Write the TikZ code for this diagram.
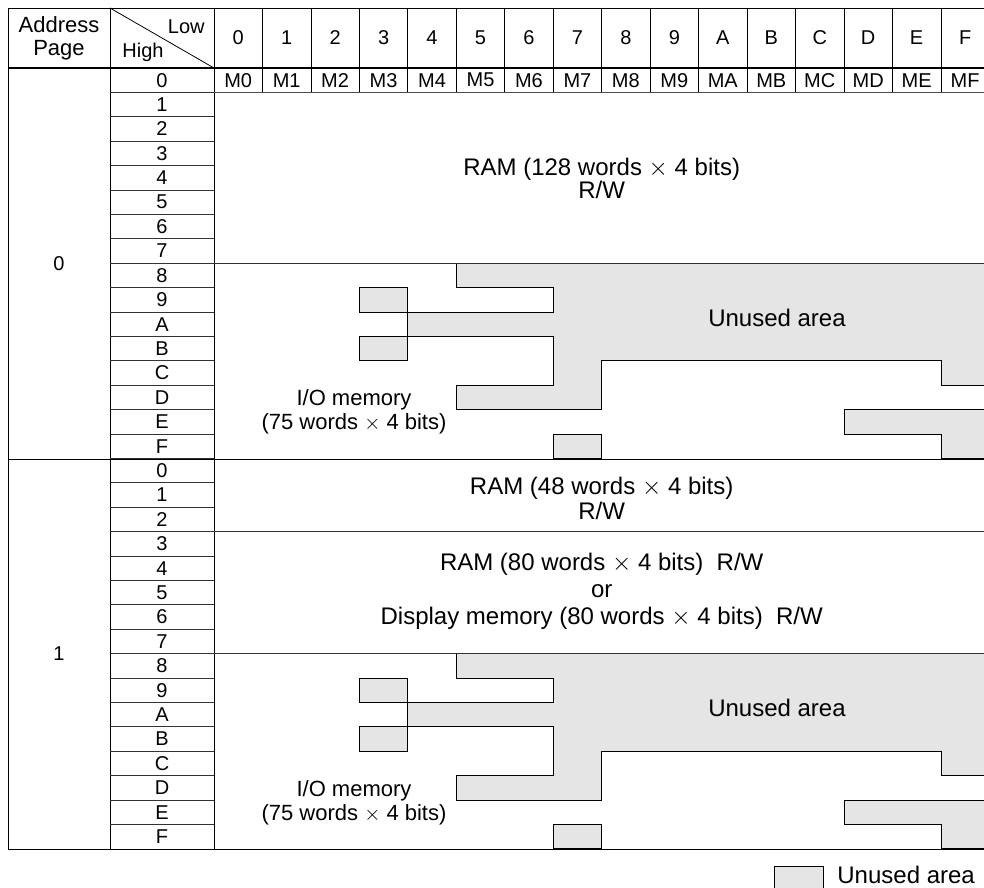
\documentclass[tikz,border=0pt]{standalone}
\usepackage{fontspec}
\setmainfont{Liberation Sans}
\usetikzlibrary{positioning}

\begin{document}
\begin{tikzpicture}[x=1pt,y=-1pt,line width=0.8pt,
  txt/.style={font=\fontsize{24}{23}\selectfont,align=center,inner sep=0pt},
  iotxt/.style={font=\fontsize{22}{24}\selectfont,align=center,inner sep=0pt},
  lbl/.style={font=\fontsize{20}{23}\selectfont,align=center,inner sep=0pt},
  unused/.style={fill=black!10,draw=black}]
\clip (0,0) rectangle (984,887);
% unused cells, one copy per page
\begin{scope}[shift={(214,68)},x=48.46pt,y=-24.4pt]
\foreach \p in {0,16}{
 \filldraw[unused] (5,\p+8) -- (16,\p+8) -- (16,\p+13) -- (15,\p+13) -- (15,\p+12) -- (8,\p+12)
   -- (8,\p+14) -- (5,\p+14) -- (5,\p+13) -- (7,\p+13) -- (7,\p+11) -- (4,\p+11) -- (4,\p+10)
   -- (7,\p+10) -- (7,\p+9) -- (5,\p+9) -- cycle;
 \filldraw[unused] (3,\p+9) rectangle (4,\p+10);
 \filldraw[unused] (3,\p+11) rectangle (4,\p+12);
 \filldraw[unused] (7,\p+15) rectangle (8,\p+16);
 \filldraw[unused] (13,\p+14) -- (16,\p+14) -- (16,\p+16) -- (15,\p+16) -- (15,\p+15) -- (13,\p+15) -- cycle;
}
\end{scope}
% table rules
\draw (8,8) -- (990,8);
\draw (8,8) -- (8,849) -- (990,849);
\draw (110,8) -- (110,849);
\draw (214,8) -- (214,849);
\draw (110,8) -- (214,68);
\draw[line width=2pt] (8,68) -- (990,68);
\draw[line width=1.2pt] (8,459.2) -- (990,459.2);
\draw[black!70] (110,92.4) -- (990,92.4);
\foreach \c in {1,...,15} \draw (214+\c*48.46,8) -- (214+\c*48.46,92.4);
\foreach \r in {1,...,31} \draw[black!80] (110,68+\r*24.4) -- (214,68+\r*24.4);
\foreach \r in {8,19,24} \draw[black!80] (214,68+\r*24.4) -- (990,68+\r*24.4);
% header
\node[lbl,font=\fontsize{22}{23}\selectfont] (addr) at (59,38) {Address\\Page};
\node[lbl,anchor=east] (low) at (205,27) {Low};
\node[lbl,anchor=west] (high) at (122,52) {High};
\foreach \h [count=\c from 0] in {0,1,2,3,4,5,6,7,8,9,A,B,C,D,E,F}{
 \node[lbl] (col\h) at (238.2+\c*48.46,38) {\h};
 \node[lbl] (m\h) at (238.2+\c*48.46,80.2) {M\h};}
\foreach \p in {0,1}{
 \node[lbl] (pg\p) at (59,263.6+\p*390.4) {\p};
 \foreach \h [count=\r from 0] in {0,1,2,3,4,5,6,7,8,9,A,B,C,D,E,F}
  \node[lbl] (r\p\h) at (162,80.2+\p*390.4+\r*24.4) {\h};
 \node[txt] (unused\p) at (777,318+\p*390.4) {Unused area};
 \node[iotxt] (io\p) at (354,412+\p*390.4) {I/O memory\\(75 words $\times$ 4 bits)};}
\node[txt] (ramA) at (601.7,178) {RAM (128 words $\times$ 4 bits)\\R/W};
\node[txt,font=\fontsize{24}{25}\selectfont] (ramB) at (601.7,498) {RAM (48 words $\times$ 4 bits)\\R/W};
\node[txt,font=\fontsize{24}{27}\selectfont] (ramC) at (601.7,591)
 {RAM (80 words $\times$ 4 bits)\ \ R/W\\or\\Display memory (80 words $\times$ 4 bits)\ \ R/W};
% legend
\filldraw[unused] (774,866) rectangle (823,895);
\node[txt,anchor=west] (leg) at (837,875) {Unused area};
\end{tikzpicture}
\end{document}
